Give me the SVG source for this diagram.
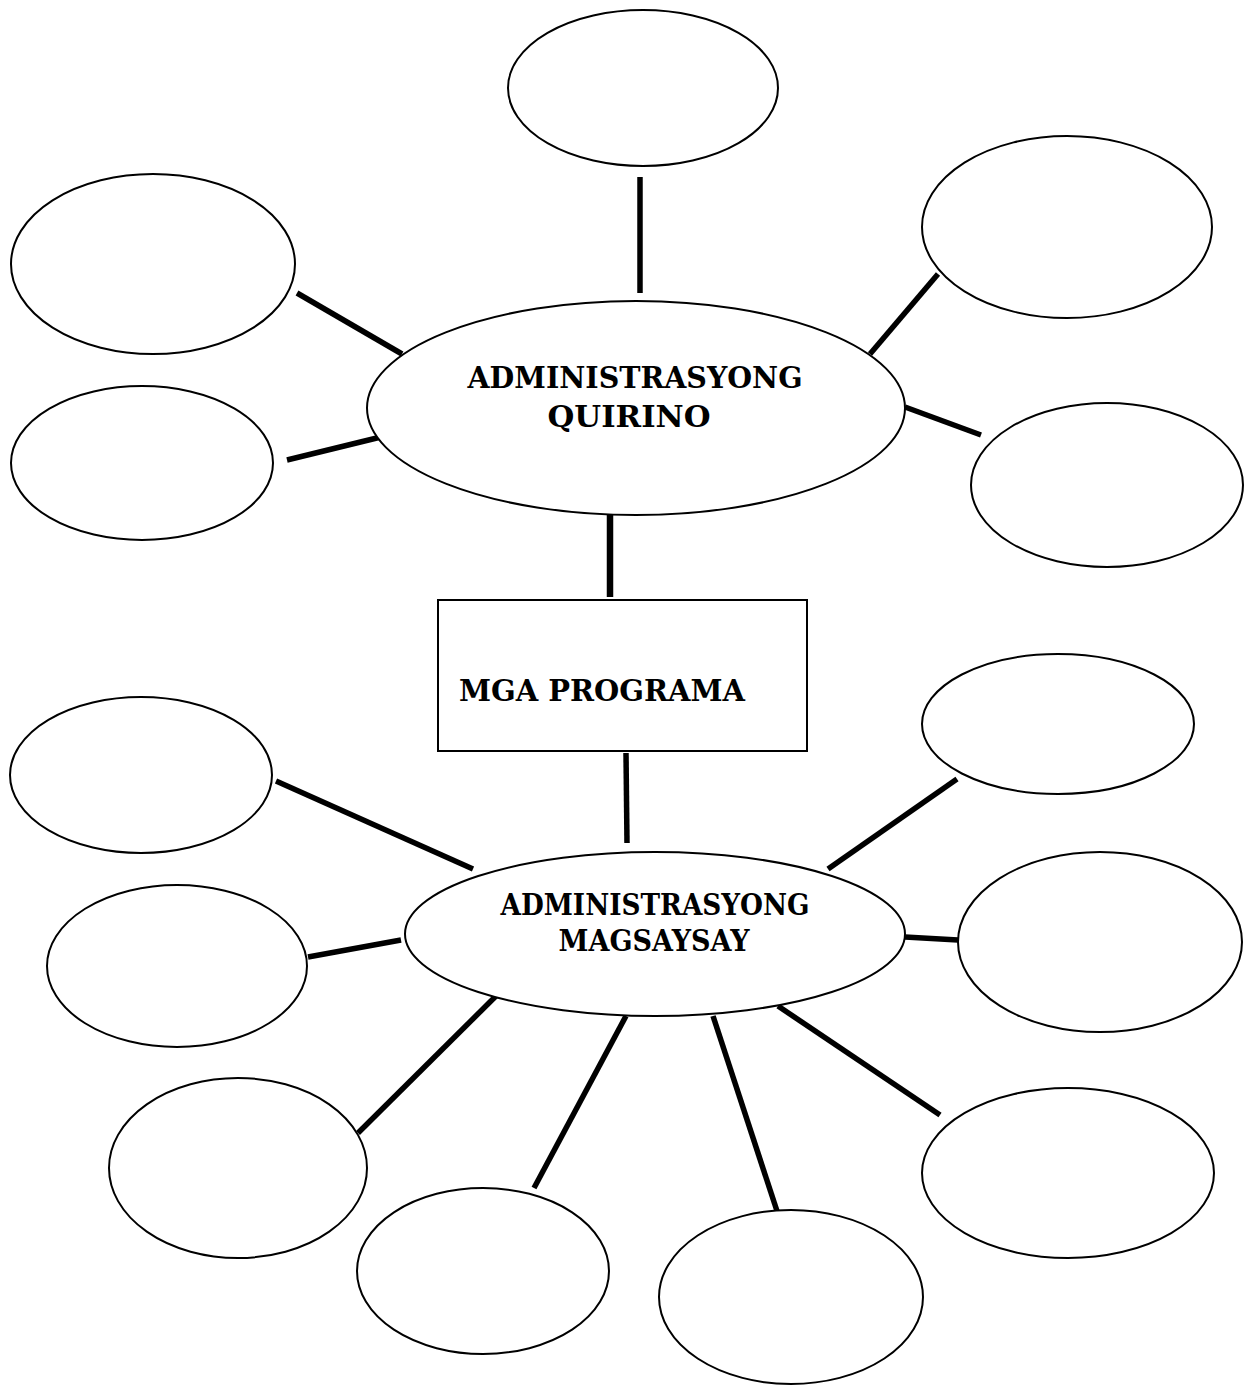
<svg xmlns="http://www.w3.org/2000/svg" width="1250" height="1386" viewBox="0 0 1250 1386">
<style>
.n{fill:#fff;stroke:#000;stroke-width:2}
.c line{stroke:#000;stroke-width:5.5}
.t{font-family:"DejaVu Serif","Liberation Serif",serif;font-weight:bold;font-size:30px;fill:#000}
</style>
<rect width="1250" height="1386" fill="#fff"/>
<g class="c" id="connectors">
<line x1="640" y1="177" x2="640" y2="293"/>
<line x1="297" y1="293" x2="402" y2="354"/>
<line x1="287" y1="460" x2="385" y2="436"/>
<line x1="870" y1="354" x2="938" y2="274"/>
<line x1="905" y1="407" x2="981" y2="435"/>
<line x1="610" y1="510" x2="610" y2="597" style="stroke-width:6.5"/>
<line x1="626" y1="753" x2="627" y2="843"/>
<line x1="276" y1="781" x2="473" y2="869"/>
<line x1="828" y1="869" x2="957" y2="779"/>
<line x1="308" y1="957" x2="401" y2="940"/>
<line x1="905" y1="937" x2="958" y2="940"/>
<line x1="496" y1="996" x2="358" y2="1133"/>
<line x1="626" y1="1016" x2="534" y2="1188"/>
<line x1="713" y1="1016" x2="777" y2="1211"/>
<line x1="778" y1="1006" x2="940" y2="1115"/>
</g>
<g id="top"><ellipse class="n" cx="643" cy="88" rx="135" ry="78"/></g>
<g id="q-tr"><ellipse class="n" cx="1067" cy="227" rx="145" ry="91"/></g>
<g id="q-l1"><ellipse class="n" cx="153" cy="264" rx="142" ry="90"/></g>
<g id="q-l2"><ellipse class="n" cx="142" cy="463" rx="131" ry="77"/></g>
<g id="q-r2"><ellipse class="n" cx="1107" cy="485" rx="136" ry="82"/></g>
<g id="quirino"><ellipse class="n" cx="636" cy="408" rx="269" ry="107"/>
<text class="t" x="635" y="388" text-anchor="middle" textLength="335" lengthAdjust="spacingAndGlyphs">ADMINISTRASYONG</text>
<text class="t" x="629" y="427" text-anchor="middle" textLength="163" lengthAdjust="spacingAndGlyphs">QUIRINO</text></g>
<g id="programa"><rect class="n" x="438" y="600" width="369" height="151"/>
<text class="t" x="459" y="701" textLength="286" lengthAdjust="spacingAndGlyphs">MGA PROGRAMA</text></g>
<g id="m-r1"><ellipse class="n" cx="1058" cy="724" rx="136" ry="70"/></g>
<g id="m-l1"><ellipse class="n" cx="141" cy="775" rx="131" ry="78"/></g>
<g id="magsaysay"><ellipse class="n" cx="655" cy="934" rx="250" ry="82"/>
<text class="t" x="655" y="915" text-anchor="middle" textLength="309" lengthAdjust="spacingAndGlyphs">ADMINISTRASYONG</text>
<text class="t" x="654" y="951" text-anchor="middle" textLength="191" lengthAdjust="spacingAndGlyphs">MAGSAYSAY</text></g>
<g id="m-l2"><ellipse class="n" cx="177" cy="966" rx="130" ry="81"/></g>
<g id="m-r2"><ellipse class="n" cx="1100" cy="942" rx="142" ry="90"/></g>
<g id="m-b1"><ellipse class="n" cx="238" cy="1168" rx="129" ry="90"/></g>
<g id="m-b2"><ellipse class="n" cx="483" cy="1271" rx="126" ry="83"/></g>
<g id="m-b3"><ellipse class="n" cx="791" cy="1297" rx="132" ry="87"/></g>
<g id="m-b4"><ellipse class="n" cx="1068" cy="1173" rx="146" ry="85"/></g>
</svg>
